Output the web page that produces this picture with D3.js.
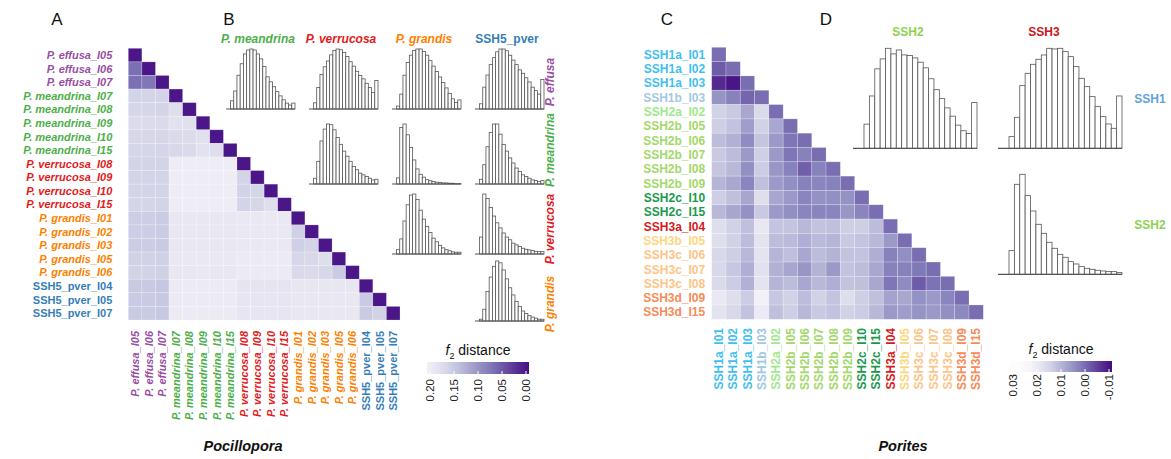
<!DOCTYPE html>
<html>
<head>
<meta charset="utf-8">
<script src="https://cdn.jsdelivr.net/npm/d3@7"></script>
<style>
  html, body { margin: 0; padding: 0; background: #fff; }
  svg { display: block; font-family: "Liberation Sans", Arial, sans-serif; }
</style>
</head>
<body>
<svg id="fig" width="1171" height="459"></svg>
<script>
/* ---- Pocillopora (panels A, B) ---- */
const pocLabels = [
  'P. effusa_I05', 'P. effusa_I06', 'P. effusa_I07',
  'P. meandrina_I07', 'P. meandrina_I08', 'P. meandrina_I09', 'P. meandrina_I10', 'P. meandrina_I15',
  'P. verrucosa_I08', 'P. verrucosa_I09', 'P. verrucosa_I10', 'P. verrucosa_I15',
  'P. grandis_I01', 'P. grandis_I02', 'P. grandis_I03', 'P. grandis_I05', 'P. grandis_I06',
  'SSH5_pver_I04', 'SSH5_pver_I05', 'SSH5_pver_I07'
];
const pocGroups = ['P. effusa', 'P. meandrina', 'P. verrucosa', 'P. grandis', 'SSH5_pver'];
const pocColors = ['#984ea3', '#4daf4a', '#e41a1c', '#ff7f00', '#377eb8'];

// lower triangle of the f2 distance matrix, row by row
const pocDist = [
  [0],
  [0.067, 0],
  [0.067, 0.072, 0],
  [0.163, 0.163, 0.163, 0],
  [0.165, 0.165, 0.163, 0.175, 0],
  [0.172, 0.172, 0.170, 0.180, 0.178, 0],
  [0.166, 0.166, 0.165, 0.170, 0.172, 0.178, 0],
  [0.165, 0.165, 0.164, 0.168, 0.170, 0.182, 0.175, 0],
  [0.163, 0.163, 0.162, 0.199, 0.199, 0.199, 0.199, 0.199, 0],
  [0.163, 0.163, 0.162, 0.200, 0.200, 0.200, 0.200, 0.200, 0.163, 0],
  [0.163, 0.163, 0.162, 0.200, 0.200, 0.200, 0.200, 0.200, 0.161, 0.165, 0],
  [0.164, 0.164, 0.163, 0.199, 0.199, 0.199, 0.199, 0.199, 0.163, 0.165, 0.175, 0],
  [0.155, 0.155, 0.153, 0.190, 0.190, 0.191, 0.190, 0.190, 0.193, 0.193, 0.193, 0.193, 0],
  [0.155, 0.155, 0.153, 0.189, 0.189, 0.190, 0.189, 0.189, 0.193, 0.193, 0.193, 0.193, 0.158, 0],
  [0.154, 0.154, 0.152, 0.189, 0.190, 0.190, 0.189, 0.189, 0.193, 0.193, 0.193, 0.193, 0.157, 0.162, 0],
  [0.160, 0.160, 0.158, 0.192, 0.192, 0.193, 0.192, 0.192, 0.196, 0.196, 0.196, 0.196, 0.166, 0.168, 0.175, 0],
  [0.161, 0.161, 0.159, 0.191, 0.191, 0.192, 0.191, 0.191, 0.195, 0.195, 0.195, 0.195, 0.169, 0.170, 0.166, 0.153, 0],
  [0.150, 0.150, 0.148, 0.196, 0.196, 0.196, 0.196, 0.196, 0.185, 0.185, 0.185, 0.185, 0.188, 0.188, 0.188, 0.188, 0.188, 0],
  [0.151, 0.151, 0.149, 0.196, 0.196, 0.196, 0.196, 0.196, 0.186, 0.186, 0.186, 0.186, 0.189, 0.189, 0.189, 0.189, 0.189, 0.152, 0],
  [0.151, 0.151, 0.149, 0.196, 0.196, 0.196, 0.196, 0.196, 0.186, 0.186, 0.186, 0.186, 0.189, 0.189, 0.189, 0.189, 0.189, 0.152, 0.160, 0]
];
const pocTicks = [0.20, 0.15, 0.10, 0.05, 0.00];

// pairwise histograms (bin counts), rows = first species, cols = second
const histEffMea = [25, 55, 103, 138, 168, 180, 183, 180, 168, 153, 130, 98, 83, 68, 53, 40, 28, 18, 12, 18];
const histEffVer = [18, 63, 101, 123, 140, 158, 171, 175, 173, 165, 153, 138, 125, 110, 98, 88, 75, 63, 48, 83];
const histEffGra = [8, 41, 93, 128, 148, 161, 165, 165, 158, 148, 133, 118, 103, 88, 73, 58, 43, 28, 18, 25];
const histEffSsh = [15, 63, 98, 128, 148, 165, 173, 173, 168, 155, 141, 128, 113, 103, 90, 78, 63, 53, 43, 85];
const histMeaVer = [17, 67, 127, 162, 177, 175, 160, 137, 117, 97, 82, 67, 52, 42, 32, 27, 22, 17, 12, 14];
const histMeaGra = [17, 157, 167, 137, 102, 67, 42, 27, 19, 12, 9, 7, 5, 4, 3, 3, 2, 2, 1, 1];
const histMeaSsh = [14, 57, 110, 152, 177, 177, 147, 117, 97, 77, 62, 47, 37, 27, 22, 17, 12, 10, 7, 10];
const histVerGra = [12, 42, 92, 137, 164, 167, 152, 122, 97, 77, 60, 44, 34, 24, 17, 12, 9, 6, 5, 5];
const histVerSsh = [50, 177, 164, 137, 112, 92, 77, 62, 50, 42, 32, 27, 22, 17, 14, 12, 10, 8, 7, 7];
const histGraSsh = [5, 33, 83, 123, 153, 168, 163, 143, 118, 93, 73, 55, 41, 28, 21, 15, 11, 8, 5, 5];

/* ---- Porites (panels C, D) ---- */
const porLabels = [
  'SSH1a_I01', 'SSH1a_I02', 'SSH1a_I03', 'SSH1b_I03', 'SSH2a_I02',
  'SSH2b_I05', 'SSH2b_I06', 'SSH2b_I07', 'SSH2b_I08', 'SSH2b_I09',
  'SSH2c_I10', 'SSH2c_I15', 'SSH3a_I04', 'SSH3b_I05', 'SSH3c_I06',
  'SSH3c_I07', 'SSH3c_I08', 'SSH3d_I09', 'SSH3d_I15'
];
const porGroups = ['SSH1a', 'SSH1b', 'SSH2a', 'SSH2b', 'SSH2c', 'SSH3a', 'SSH3b', 'SSH3c', 'SSH3d'];
const porColors = ['#3fbff0', '#9fc9e2', '#9ee98c', '#a3d86a', '#1a9a4c', '#d7191c', '#fed680', '#fdc487', '#f88a58'];

const porDist = [
  [0],
  [-0.002, 0],
  [-0.0076, -0.010, 0],
  [0.005, 0.0025, -0.001, 0],
  [0.0145, 0.013, 0.008, 0.016, 0],
  [0.0138, 0.012, 0.0066, 0.0145, 0.008, 0],
  [0.011, 0.0093, 0.004, 0.0123, 0.006, 0.001, 0],
  [0.013, 0.011, 0.006, 0.014, 0.006, 0.001, 0.0025, 0],
  [0.0123, 0.0104, 0.0044, 0.0134, 0.0055, 0.0025, -0.0016, 0.0025, 0],
  [0.010, 0.008, 0.003, 0.0115, 0.006, 0.0044, 0.0025, 0.003, 0.0025, 0],
  [0.0138, 0.0115, 0.0078, 0.0168, 0.0078, 0.006, 0.003, 0.0047, 0.0044, 0.0047, 0],
  [0.0104, 0.0078, 0.0047, 0.013, 0.006, 0.0044, 0.003, 0.003, 0.003, 0.0055, 0.003, 0],
  [0.0168, 0.0145, 0.0115, 0.019, 0.0122, 0.0122, 0.0104, 0.012, 0.0115, 0.0138, 0.0138, 0.011, 0],
  [0.0168, 0.0145, 0.011, 0.018, 0.011, 0.0106, 0.009, 0.0106, 0.010, 0.013, 0.0122, 0.0104, 0.006, 0],
  [0.0156, 0.0138, 0.0104, 0.0179, 0.010, 0.0115, 0.008, 0.011, 0.0096, 0.012, 0.012, 0.009, 0.0025, 0.0044, 0],
  [0.0156, 0.0126, 0.009, 0.0175, 0.0093, 0.0078, 0.0055, 0.0096, 0.006, 0.012, 0.011, 0.008, 0.0025, 0.0025, 0.0014, 0],
  [0.016, 0.0134, 0.0093, 0.0179, 0.010, 0.011, 0.008, 0.0104, 0.009, 0.012, 0.0115, 0.008, 0.001, 0.004, -0.002, 0.0006, 0],
  [0.0194, 0.0168, 0.0134, 0.0216, 0.0126, 0.0145, 0.011, 0.0145, 0.0122, 0.0168, 0.0138, 0.0115, 0.0074, 0.008, 0.0047, 0.006, 0.003, 0],
  [0.0179, 0.0156, 0.012, 0.0198, 0.0115, 0.0138, 0.0104, 0.013, 0.012, 0.0145, 0.0134, 0.0104, 0.006, 0.0066, 0.005, 0.0059, 0.0044, 0.0036, 0]
];
const porTicks = [0.03, 0.02, 0.01, 0.00, -0.01];

const histSsh1Ssh2 = [73, 158, 240, 270, 302, 285, 297, 282, 280, 273, 260, 243, 210, 177, 150, 122, 97, 70, 53, 45, 138];
const histSsh1Ssh3 = [35, 93, 188, 225, 252, 267, 280, 300, 298, 300, 290, 275, 245, 210, 185, 155, 125, 95, 73, 60, 157];
const histSsh2Ssh3 = [71, 270, 300, 236, 190, 150, 123, 96, 78, 60, 51, 38, 31, 23, 18, 15, 12, 10, 8, 8, 5];
const porHistGroups = ['SSH1', 'SSH2', 'SSH3'];
const porHistColors = ['#5fa2dd', '#8fd150', '#c9171d'];

/* ============================================================ */
const svg = d3.select('#fig');
const pocColor = d3.scaleOrdinal(pocGroups, pocColors);
const porColor = d3.scaleOrdinal(porGroups, porColors);
const groupOf = s => s.replace(/_I\d+$/, '');
const isItalic = s => s.startsWith('P.');

const pocFill = d3.scaleSequential(d3.interpolatePurples).domain([0.2296, -0.0173]).clamp(true);
const porFill = d3.scaleSequential(d3.interpolatePurples).domain([0.025, -0.0125]).clamp(true);

function heatmap(labels, matrix, fill, colorOf, o) {
  const x = d3.scaleBand().domain(labels).range(o.xr);
  const y = d3.scaleBand().domain(labels).range(o.yr);
  const g = svg.append('g');
  const cells = [];
  matrix.forEach((row, i) => row.forEach((v, j) => cells.push({ r: labels[i], c: labels[j], v })));
  g.selectAll('rect').data(cells).join('rect')
    .attr('x', d => x(d.c)).attr('y', d => y(d.r))
    .attr('width', x.bandwidth()).attr('height', y.bandwidth())
    .attr('fill', d => fill(d.v))
    .attr('stroke', '#fff').attr('stroke-opacity', 0.3).attr('stroke-width', 0.7);

  g.selectAll('text.row').data(labels).join('text')
    .attr('class', 'row')
    .attr('x', o.xr[0] - o.rowGap).attr('y', d => y(d) + y.bandwidth() / 2)
    .attr('dy', '0.36em').attr('text-anchor', 'end')
    .attr('font-size', o.fs).attr('font-weight', 'bold')
    .attr('font-style', d => isItalic(d) ? 'italic' : 'normal')
    .attr('fill', d => colorOf(groupOf(d)))
    .text(d => d);

  g.selectAll('text.col').data(labels).join('text')
    .attr('class', 'col')
    .attr('transform', d => `translate(${x(d) + x.bandwidth() / 2 + o.fs * 0.36},${o.colTop}) rotate(-90)`)
    .attr('text-anchor', 'end')
    .attr('font-size', o.fs).attr('font-weight', 'bold')
    .attr('font-style', d => isItalic(d) ? 'italic' : 'normal')
    .attr('fill', d => colorOf(groupOf(d)))
    .text(d => d);
}

function histogram(counts, x0, base, o) {
  const g = svg.append('g');
  const xb = d3.scaleBand().domain(d3.range(counts.length)).range([x0 + o.off, x0 + o.w]);
  const h = d3.scaleLinear().domain([0, d3.max(counts)]).range([0, o.h]);
  g.selectAll('rect').data(counts).join('rect')
    .attr('x', (d, i) => xb(i)).attr('y', d => base - h(d))
    .attr('width', xb.bandwidth()).attr('height', d => h(d))
    .attr('fill', '#fff').attr('stroke', '#555').attr('stroke-width', 0.8);
  g.append('line').attr('x1', x0).attr('x2', x0 + o.w).attr('y1', base).attr('y2', base)
    .attr('stroke', '#555').attr('stroke-width', 1.2);
}

function legend(fill, ticks, o) {
  const id = 'grad' + o.id;
  const sx = d3.scaleLinear().domain([ticks[0], ticks[ticks.length - 1]]).range(o.xr);
  const grad = svg.append('defs').append('linearGradient').attr('id', id);
  d3.range(0, 1.0001, 0.1).forEach(t => {
    grad.append('stop').attr('offset', t).attr('stop-color', fill(sx.invert(o.xr[0] - 3 + t * (o.xr[1] - o.xr[0] + 6))));
  });
  const g = svg.append('g');
  g.append('rect').attr('x', o.xr[0] - 3).attr('y', o.y).attr('width', o.xr[1] - o.xr[0] + 6).attr('height', o.bh)
    .attr('fill', `url(#${id})`);
  g.selectAll('line').data(ticks).join('line')
    .attr('x1', d => sx(d)).attr('x2', d => sx(d)).attr('y1', o.y + o.bh - 3).attr('y2', o.y + o.bh)
    .attr('stroke', '#fff').attr('stroke-width', 1);
  g.selectAll('text.tick').data(ticks).join('text')
    .attr('class', 'tick')
    .attr('transform', d => `translate(${sx(d) + 4},${o.labTop}) rotate(-90)`)
    .attr('text-anchor', 'end').attr('font-size', 11.5).attr('fill', '#222')
    .text(d => d3.format('.2f')(d).replace('−', '-'));
  const t = g.append('text').attr('x', (o.xr[0] + o.xr[1]) / 2).attr('y', o.y - 7)
    .attr('text-anchor', 'middle').attr('font-size', 14).attr('fill', '#111');
  t.append('tspan').attr('font-style', 'italic').text('f');
  t.append('tspan').attr('font-size', 9).attr('dy', 4).text('2');
  t.append('tspan').attr('dy', -4).text(' distance');
}

/* ---- A ---- */
heatmap(pocLabels, pocDist, pocFill, pocColor, { xr: [128.3, 400], yr: [48.3, 320], fs: 11, rowGap: 16, colTop: 331 });
/* ---- C ---- */
heatmap(porLabels, porDist, porFill, porColor, { xr: [711.7, 983.3], yr: [47.3, 319.3], fs: 12, rowGap: 6.5, colTop: 328 });

/* ---- B histograms ---- */
const pocCols = pocGroups.slice(1);
const pocRows = pocGroups.slice(0, 4);
const bx = d3.scaleBand().domain(pocCols).range([226, 558]);
const by = d3.scaleOrdinal(pocRows, [109, 184, 254, 321]);
const pocHists = [
  ['P. effusa', 'P. meandrina', histEffMea], ['P. effusa', 'P. verrucosa', histEffVer],
  ['P. effusa', 'P. grandis', histEffGra], ['P. effusa', 'SSH5_pver', histEffSsh],
  ['P. meandrina', 'P. verrucosa', histMeaVer], ['P. meandrina', 'P. grandis', histMeaGra],
  ['P. meandrina', 'SSH5_pver', histMeaSsh], ['P. verrucosa', 'P. grandis', histVerGra],
  ['P. verrucosa', 'SSH5_pver', histVerSsh], ['P. grandis', 'SSH5_pver', histGraSsh]
];
pocHists.forEach(([r, c, counts]) => histogram(counts, bx(c), by(r), { off: 4.5, w: 69, h: 60 }));

svg.append('g').selectAll('text').data(pocCols).join('text')
  .attr('x', d => bx(d) + 32).attr('y', 43).attr('text-anchor', 'middle')
  .attr('font-size', 12).attr('font-weight', 'bold')
  .attr('font-style', d => isItalic(d) ? 'italic' : 'normal')
  .attr('fill', d => pocColor(d)).text(d => d);

const pocRowMid = d3.scaleOrdinal(pocRows, [82, 150, 229, 304]);
svg.append('g').selectAll('text').data(pocRows).join('text')
  .attr('transform', d => `translate(554,${pocRowMid(d)}) rotate(-90)`)
  .attr('text-anchor', 'middle').attr('font-size', 12).attr('font-weight', 'bold')
  .attr('font-style', 'italic').attr('fill', d => pocColor(d)).text(d => d);

/* ---- D histograms ---- */
const porHistColor = d3.scaleOrdinal(porHistGroups, porHistColors);
const dx = d3.scaleBand().domain(['SSH2', 'SSH3']).range([853, 1143]);
const dy = d3.scaleOrdinal(['SSH1', 'SSH2'], [148.3, 274.3]);
const porHists = [['SSH1', 'SSH2', histSsh1Ssh2], ['SSH1', 'SSH3', histSsh1Ssh3], ['SSH2', 'SSH3', histSsh2Ssh3]];
porHists.forEach(([r, c, counts]) => histogram(counts, dx(c), dy(r), { off: 11, w: 124, h: 100 }));

const dTitleX = d3.scaleOrdinal(['SSH2', 'SSH3'], [908, 1044]);
svg.append('g').selectAll('text').data(['SSH2', 'SSH3']).join('text')
  .attr('x', d => dTitleX(d)).attr('y', 36).attr('text-anchor', 'middle')
  .attr('font-size', 12).attr('font-weight', 'bold').attr('fill', d => porHistColor(d)).text(d => d);
svg.append('g').selectAll('text').data(['SSH1', 'SSH2']).join('text')
  .attr('x', 1150).attr('y', d => dy(d) - 45).attr('text-anchor', 'middle')
  .attr('font-size', 12).attr('font-weight', 'bold').attr('fill', d => porHistColor(d)).text(d => d);

/* ---- legends ---- */
legend(pocFill, pocTicks, { id: 'A', xr: [430, 526], y: 362, bh: 12, labTop: 379 });
legend(porFill, porTicks, { id: 'C', xr: [1013, 1109], y: 361, bh: 11, labTop: 374 });

/* ---- panel letters and genus names ---- */
const letters = [['A', 57], ['B', 229], ['C', 667], ['D', 826]];
svg.append('g').selectAll('text').data(letters).join('text')
  .attr('x', d => d[1]).attr('y', 25).attr('text-anchor', 'middle')
  .attr('font-size', 17).attr('fill', '#111').text(d => d[0]);
svg.append('g').selectAll('text').data([['Pocillopora', 243], ['Porites', 903]]).join('text')
  .attr('x', d => d[1]).attr('y', 451).attr('text-anchor', 'middle')
  .attr('font-size', 14.5).attr('font-weight', 'bold').attr('font-style', 'italic')
  .attr('fill', '#111').text(d => d[0]);
</script>
</body>
</html>
